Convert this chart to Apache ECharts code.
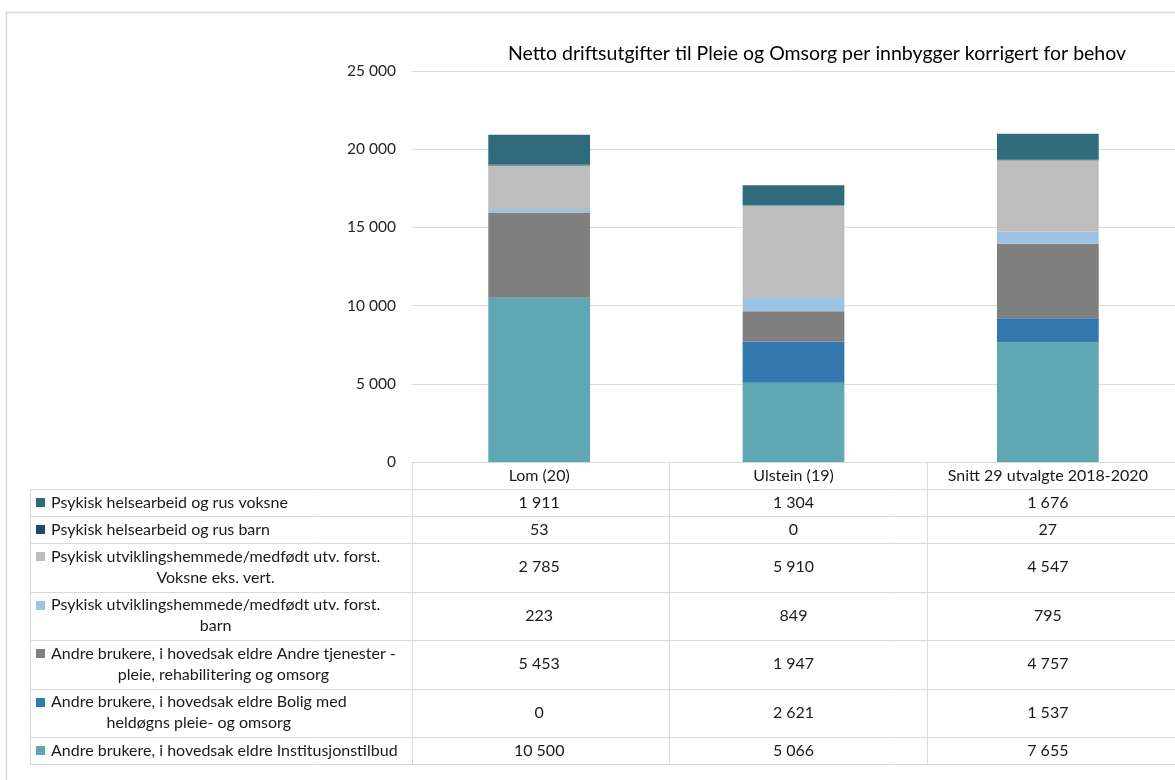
<!DOCTYPE html>
<html>
<head>
<meta charset="utf-8">
<script src="https://cdn.jsdelivr.net/npm/echarts@6/dist/echarts.min.js"></script>
<style>
  html, body { margin: 0; padding: 0; background: #ffffff; }
  #chart { width: 1175px; height: 780px; }
</style>
</head>
<body>
<div id="chart"></div>
<script>
// Categories along the x axis
const categories = ['Lom (20)', 'Ulstein (19)', 'Snitt 29 utvalgte 2018-2020'];

// Series values (kr per innbygger), stacked bottom to top
const institusjon    = [10500, 5066, 7655];
const bolig          = [0, 2621, 1537];
const andreTjenester = [5453, 1947, 4757];
const utvBarn        = [223, 849, 795];
const utvVoksne      = [2785, 5910, 4547];
const rusBarn        = [53, 0, 27];
const rusVoksne      = [1911, 1304, 1676];

// Series names, bottom to top
const names = [
  'Andre brukere, i hovedsak eldre Institusjonstilbud',
  'Andre brukere, i hovedsak eldre Bolig med heldøgns pleie- og omsorg',
  'Andre brukere, i hovedsak eldre Andre tjenester - pleie, rehabilitering og omsorg',
  'Psykisk utviklingshemmede/medfødt utv. forst. barn',
  'Psykisk utviklingshemmede/medfødt utv. forst. Voksne eks. vert.',
  'Psykisk helsearbeid og rus barn',
  'Psykisk helsearbeid og rus voksne'
];
// Wrapped labels as shown in the data table, same order
const tableLabels = [
  'Andre brukere, i hovedsak eldre Institusjonstilbud',
  'Andre brukere, i hovedsak eldre Bolig med\nheldøgns pleie- og omsorg',
  'Andre brukere, i hovedsak eldre Andre tjenester -\npleie, rehabilitering og omsorg',
  'Psykisk utviklingshemmede/medfødt utv. forst.\nbarn',
  'Psykisk utviklingshemmede/medfødt utv. forst.\nVoksne eks. vert.',
  'Psykisk helsearbeid og rus barn',
  'Psykisk helsearbeid og rus voksne'
];
const colors = ['#5fa7b3', '#3378ad', '#7f7f7f', '#9dc3e3', '#bdbdbd', '#1d4a6b', '#306b7b'];
const seriesValues = [institusjon, bolig, andreTjenester, utvBarn, utvVoksne, rusBarn, rusVoksne];

// Y axis ticks
const yMin = 0, yMax = 25000, yStep = 5000;

const FONT = 'Lato, "Noto Sans", sans-serif';
const TEXT = '#1a1a1a';
const LINE = '#d9d9d9';
const TABLE_FS = 16;

function fmt(v) {
  return String(v).replace(/\B(?=(\d{3})+(?!\d))/g, '\u00a0');
}

const chart = echarts.init(document.getElementById('chart'), null, { renderer: 'canvas' });

const GRID = { left: 412, top: 71, width: 772, height: 391 };

chart.setOption({
  animation: false,
  backgroundColor: '#ffffff',
  title: {
    text: 'Netto driftsutgifter til Pleie og Omsorg per innbygger korrigert for behov',
    left: 812, top: 39, textAlign: 'center',
    textStyle: { fontFamily: FONT, fontSize: 19.5, fontWeight: 'normal', color: '#000000' }
  },
  grid: Object.assign({ containLabel: false }, GRID),
  xAxis: {
    type: 'category',
    data: categories,
    axisLine: { show: true, lineStyle: { color: LINE, width: 1 } },
    axisTick: { show: false },
    axisLabel: { interval: 0, hideOverlap: false, fontFamily: FONT, fontSize: TABLE_FS, color: TEXT, margin: 6 }
  },
  yAxis: {
    type: 'value',
    min: yMin, max: yMax, interval: yStep,
    axisLine: { show: false },
    axisTick: { show: false },
    splitLine: { lineStyle: { color: LINE, width: 1 } },
    axisLabel: { fontFamily: FONT, fontSize: 15.5, color: '#262626', margin: 16, formatter: v => fmt(v) }
  },
  series: seriesValues.map((vals, i) => ({
    name: names[i],
    type: 'bar',
    stack: 'total',
    barWidth: '40%',
    itemStyle: { color: colors[i] },
    data: vals
  }))
});

// Data table under the plot
function buildTable() {
  const measure = document.createElement('canvas').getContext('2d');
  measure.font = TABLE_FS + 'px ' + FONT;

  const els = [];
  const band = GRID.width / categories.length;
  const centers = categories.map((c, i) => chart.convertToPixel({ xAxisIndex: 0 }, i));
  const tableLeft = 30;
  const firstCol = GRID.left;
  const axisY = GRID.top + GRID.height;
  const headerBottom = axisY + 27;
  const rowHeights = [27, 27, 48.5, 48.5, 48.5, 48.5, 27];
  const rightEdge = 1200;

  // row boundaries
  const ys = [headerBottom];
  rowHeights.forEach(h => ys.push(ys[ys.length - 1] + h));

  // horizontal lines
  ys.forEach(y => {
    const yy = Math.round(y) + 0.5;
    els.push({ type: 'line', shape: { x1: tableLeft, y1: yy, x2: rightEdge, y2: yy },
      style: { stroke: LINE, lineWidth: 1 }, silent: true });
  });
  // vertical lines
  const tableBottom = ys[ys.length - 1];
  els.push({ type: 'line', shape: { x1: tableLeft + 0.5, y1: Math.round(headerBottom), x2: tableLeft + 0.5, y2: Math.round(tableBottom) + 1 },
    style: { stroke: LINE, lineWidth: 1 }, silent: true });
  for (let i = 0; i <= categories.length; i++) {
    const x = Math.round(firstCol + i * band) + 0.5;
    els.push({ type: 'line', shape: { x1: x, y1: axisY, x2: x, y2: Math.round(tableBottom) + 1 },
      style: { stroke: LINE, lineWidth: 1 }, silent: true });
  }

  // rows top to bottom = series top to bottom
  for (let r = 0; r < rowHeights.length; r++) {
    const s = seriesValues.length - 1 - r;
    const top = ys[r], h = rowHeights[r];
    const cy = top + h / 2;
    const label = tableLabels[s];
    const lines = label.split('\n');
    const lh = 21;
    const firstLineY = cy - (lines.length - 1) * lh / 2;
    // legend key
    els.push({ type: 'rect', shape: { x: 36, y: Math.round(firstLineY - 4.5), width: 9, height: 9 },
      style: { fill: colors[s] }, silent: true });
    // label: lines centred on the widest line, block starting after the key
    const w = Math.max.apply(null, lines.map(l => measure.measureText(l).width));
    const textLeft = 51;
    els.push({ type: 'text', x: lines.length > 1 ? textLeft + w / 2 : textLeft, y: cy,
      style: { text: label, fontFamily: FONT, fontSize: TABLE_FS, fill: TEXT, lineHeight: lh,
        align: lines.length > 1 ? 'center' : 'left', verticalAlign: 'middle' }, silent: true });
    // values
    seriesValues[s].forEach((v, c) => {
      els.push({ type: 'text', x: centers[c], y: cy,
        style: { text: fmt(v), fontFamily: FONT, fontSize: TABLE_FS, fill: TEXT, align: 'center', verticalAlign: 'middle' },
        silent: true });
    });
  }

  // chart area border
  els.push({ type: 'rect', shape: { x: 6.5, y: 12.5, width: 1300, height: 900 },
    style: { fill: 'none', stroke: LINE, lineWidth: 1.5 }, silent: true, z: -1 });

  chart.setOption({ graphic: { elements: els } });
}
buildTable();
</script>
</body>
</html>
